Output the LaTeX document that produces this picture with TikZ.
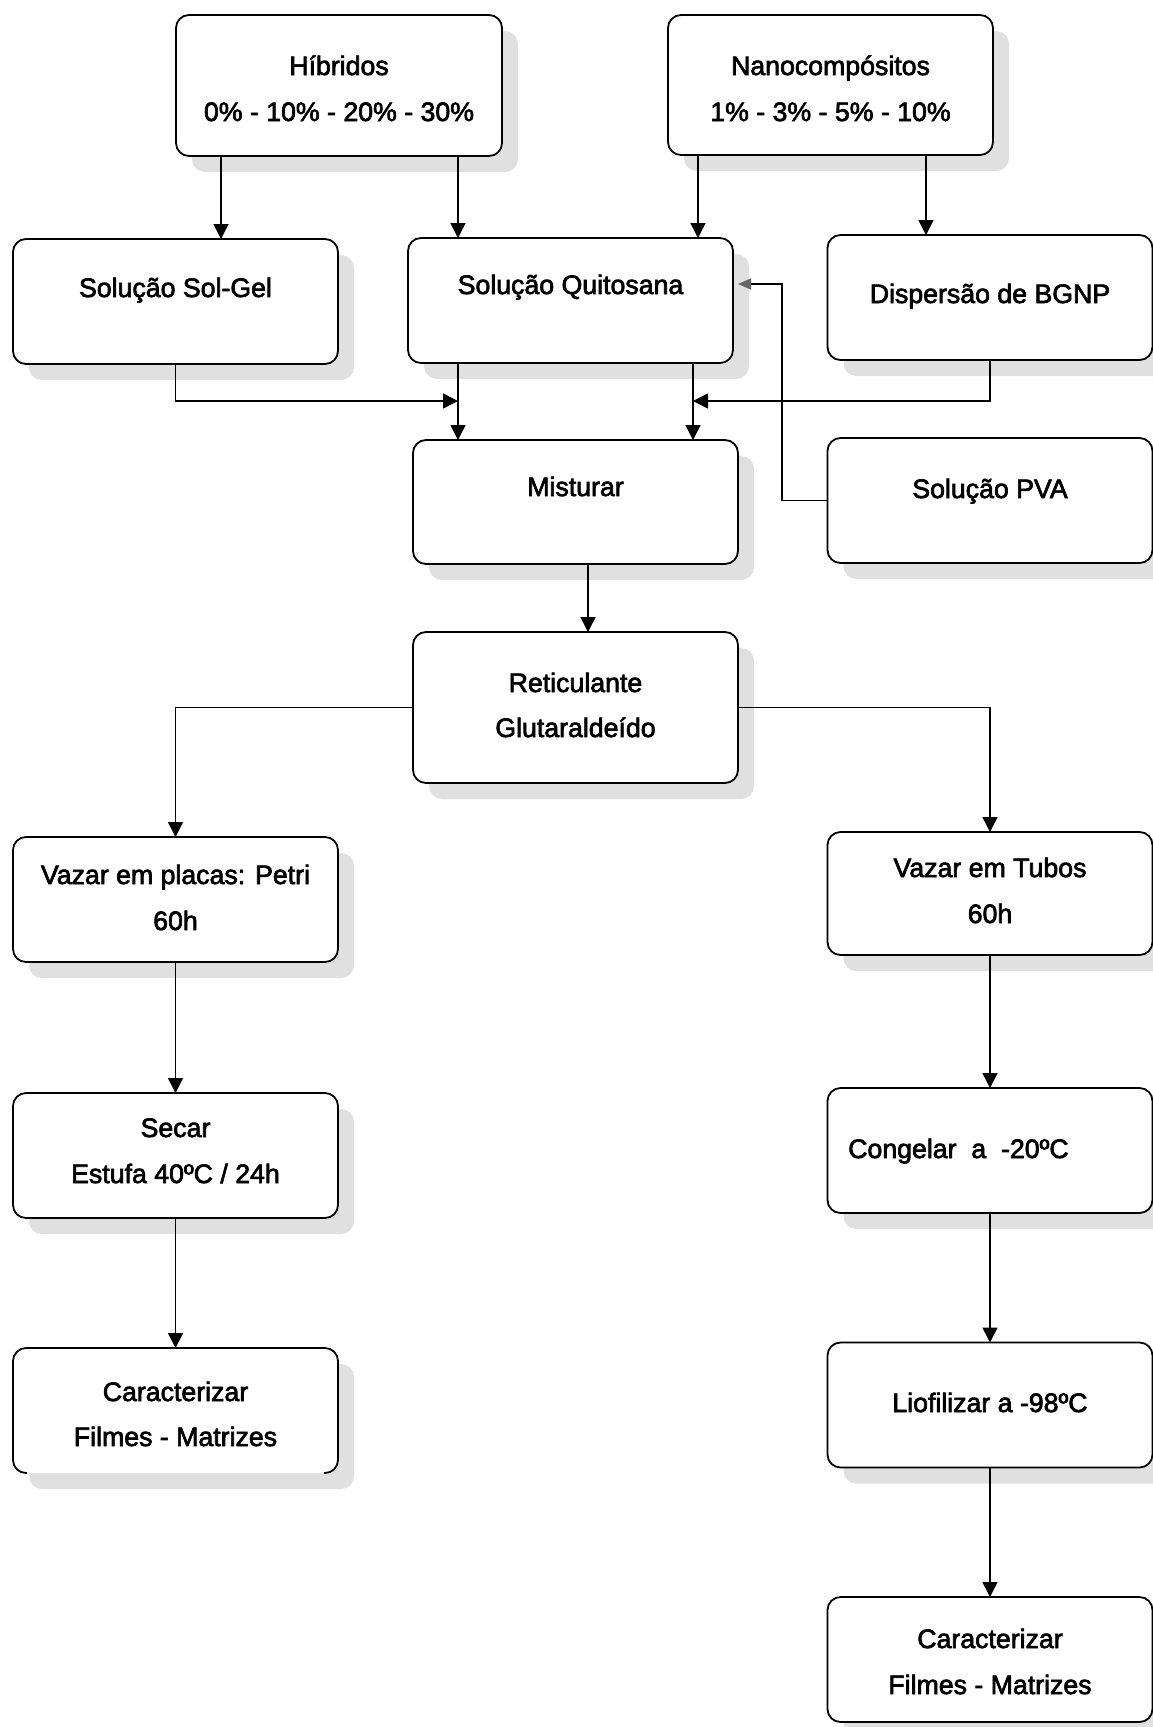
\documentclass[tikz,border=0pt]{standalone}
\usepackage{fontspec}
\setmainfont{Liberation Sans}
\newfontfamily\diagfont[FakeBold=2.5]{Liberation Sans}
\usetikzlibrary{arrows.meta,shadows,calc}
\begin{document}
\begin{tikzpicture}[x=1pt,y=-1pt,
  box/.style={draw, line width=1.8pt, rounded corners=13pt, fill=white,
    minimum width=325pt, minimum height=125pt, inner sep=0pt, outer sep=0pt,
    drop shadow={shadow xshift=16pt, shadow yshift=-16pt, fill=black!12, opacity=1}},
  openbox/.style={box, draw=none},
  txt/.style={font=\diagfont\fontsize{26.7pt}{32pt}\selectfont, anchor=base, inner sep=0pt},
  wire/.style={line width=1.5pt},
  conn/.style={wire, -{Triangle[width=15pt,length=15pt]}},
  gconn/.style={wire, -{Triangle[width=11pt,length=13pt,color=black!60]}},
]
\useasboundingbox (0,0) rectangle (1153,1727);
\fill[white] (0,0) rectangle (1153,1727);

% boxes
\node[box, minimum width=326pt, minimum height=141pt] (hib) at (339,85.5) {};
\node[box, minimum height=140pt] (nano) at (830.5,85) {};
\node[box] (solgel) at (175.5,301.5) {};
\node[box] (quit) at (570.5,300.5) {};
\node[box] (bgnp) at (990,297.5) {};
\node[box, minimum height=124pt] (mist) at (575.5,502) {};
\node[box] (pva) at (990,500.5) {};
\node[box, minimum height=151pt] (ret) at (575.5,707.5) {};
\node[box] (vpl) at (175.5,899.5) {};
\node[box, minimum height=123pt] (vtub) at (990,893.5) {};
\node[box] (sec) at (175.5,1155.5) {};
\node[box] (cong) at (990,1150.5) {};
\node[openbox] (carL) at (175.5,1410.5) {};
\node[box] (lio) at (990,1405) {};
\node[box] (carR) at (990,1659.5) {};

% outline of the last left box, open at the bottom
\draw[line width=1.8pt, rounded corners=13pt]
  ($(carL.south west)+(14,0)$) -- (carL.south west) -- (carL.north west)
  -- (carL.north east) -- (carL.south east) -- ($(carL.south east)+(-14,0)$);

% texts
\node[txt] (thib1) at (339,75) {Híbridos};
\node[txt] (thib2) at (339,121) {0\% - 10\% - 20\% - 30\%};
\node[txt] (tnano1) at (830.5,75) {Nanocompósitos};
\node[txt] (tnano2) at (830.5,121) {1\% - 3\% - 5\% - 10\%};
\node[txt] (tsg) at (175.5,297) {Solução Sol-Gel};
\node[txt] (tq) at (570.5,294) {Solução Quitosana};
\node[txt] (tb) at (990,303) {Dispersão de BGNP};
\node[txt] (tm) at (575.5,496) {Misturar};
\node[txt] (tp) at (990,498) {Solução PVA};
\node[txt] (tr1) at (575.5,692) {Reticulante};
\node[txt] (tr2) at (575.5,737) {Glutaraldeído};
\node[txt] (tv1) at (175.5,884) {Vazar em placas: Petri};
\node[txt] (tv2) at (175.5,930) {60h};
\node[txt] (tt1) at (990,877) {Vazar em Tubos};
\node[txt] (tt2) at (990,923) {60h};
\node[txt] (ts1) at (175.5,1137) {Secar};
\node[txt] (ts2) at (175.5,1183) {Estufa 40ºC / 24h};
\node[txt, anchor=base west] (tc) at (848,1158) {Congelar\ \ a\ \ -20ºC};
\node[txt] (tcl1) at (175.5,1401) {Caracterizar};
\node[txt] (tcl2) at (175.5,1446) {Filmes - Matrizes};
\node[txt] (tl) at (990,1412) {Liofilizar a -98ºC};
\node[txt] (tcr1) at (990,1648) {Caracterizar};
\node[txt] (tcr2) at (990,1694) {Filmes - Matrizes};

% helper coordinates
\coordinate (xA) at (221,0);
\coordinate (xB) at (458,0);
\coordinate (xC) at (698,0);
\coordinate (xD) at (926,0);
\coordinate (xE) at (693,0);
\coordinate (xM) at (588,0);
\coordinate (xP) at (782,0);
\coordinate (yJ) at (0,401);
\coordinate (yP) at (0,284);

% connectors
\draw[conn] (hib.south -| xA) -- (solgel.north -| xA);
\draw[conn] (hib.south -| xB) -- (quit.north -| xB);
\draw[conn] (nano.south -| xC) -- (quit.north -| xC);
\draw[conn] (nano.south -| xD) -- (bgnp.north -| xD);
\draw[conn] (quit.south -| xB) -- (mist.north -| xB);
\draw[conn] (quit.south -| xE) -- (mist.north -| xE);
\draw[conn] (solgel.south) |- (xB |- yJ);
\draw[conn] (bgnp.south) |- (xE |- yJ);
\draw[gconn] (pva.west) -| (xP |- yP) -- ($(quit.east |- yP)+(5,0)$);
\draw[conn] (mist.south -| xM) -- (ret.north -| xM);
\draw[conn] (ret.west) -| (vpl.north);
\draw[conn] (ret.east) -| (vtub.north);
\draw[conn] (vpl.south) -- (sec.north);
\draw[conn] (sec.south) -- (carL.north);
\draw[conn] (vtub.south) -- (cong.north);
\draw[conn] (cong.south) -- (lio.north);
\draw[conn] (lio.south) -- (carR.north);
\end{tikzpicture}
\end{document}
